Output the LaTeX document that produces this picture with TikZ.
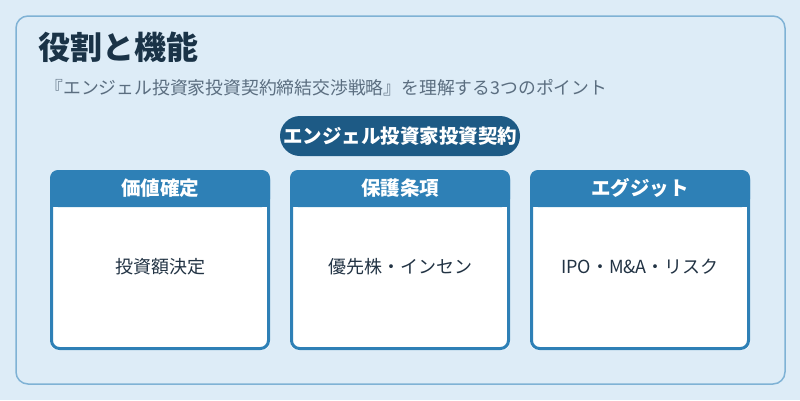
\documentclass[tikz,border=0pt]{standalone}
\usepackage{fontspec}
\setmainfont{Noto Sans CJK JP}
\definecolor{pagebg}{HTML}{DDECF7}
\definecolor{framecol}{HTML}{7FB2D5}
\definecolor{headcol}{HTML}{2E80B6}
\definecolor{pillcol}{HTML}{1D5A85}
\definecolor{titlecol}{HTML}{1A3347}
\definecolor{subcol}{HTML}{5B6E80}
\definecolor{bodycol}{HTML}{223344}
\tikzset{
  pill/.style={fill=pillcol, text=white, rounded corners=20pt, minimum width=240pt,
    minimum height=40pt, inner sep=0pt, font=\fontsize{19.5}{23}\selectfont\bfseries},
  headtext/.style={text=white, font=\fontsize{19.5}{23}\selectfont\bfseries},
  bodytext/.style={text=bodycol, font=\fontsize{18}{21}\selectfont}
}
\begin{document}
\begin{tikzpicture}[x=1pt,y=-1pt]
\useasboundingbox (0,0) rectangle (800,400);
\fill[pagebg] (0,0) rectangle (800,400);
\draw[framecol, line width=1.5pt, rounded corners=12pt, fill=pagebg] (16,16) rectangle (785,384);
\node[anchor=west, text=titlecol, font=\fontsize{32}{38}\selectfont\bfseries] (title) at (35,47) {役割と機能};
\node[anchor=west, text=subcol, font=\fontsize{17.8}{20}\selectfont] (sub) at (42,88) {『エンジェル投資家投資契約締結交渉戦略』を理解する3つのポイント};
\node[pill] (pill) at (400,136) {エンジェル投資家投資契約};
\foreach \x/\head/\body [count=\i] in {50/価値確定/投資額決定,290/保護条項/優先株・インセン,530/エグジット/IPO・M\&A・リスク}{
  \fill[white, rounded corners=8pt] (\x,170) rectangle ++(220,180);
  \fill[headcol, rounded corners=8pt] (\x,170) rectangle ++(220,37);
  \fill[headcol] (\x,190) rectangle ++(220,17);
  \draw[headcol, line width=3pt, rounded corners=8pt] (\x+1.5,171.5) rectangle ++(217,177);
  \node[headtext] (head\i) at (\x+110,188) {\head};
  \node[bodytext] (body\i) at (\x+110,267) {\body};
}
\end{tikzpicture}
\end{document}
